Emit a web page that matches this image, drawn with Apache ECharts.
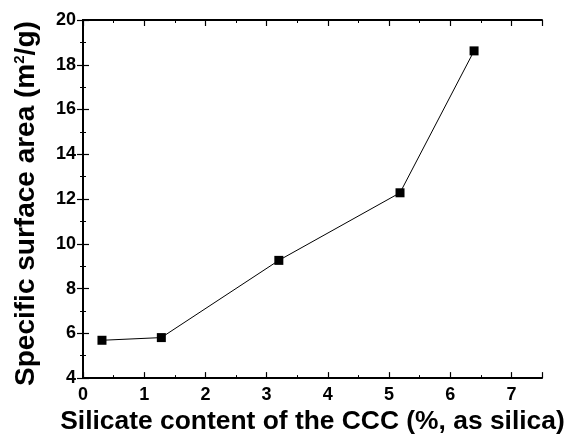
<!DOCTYPE html>
<html><head><meta charset="utf-8">
<script src="https://cdn.jsdelivr.net/npm/echarts@6/dist/echarts.min.js"></script>
<style>html,body{margin:0;padding:0;background:#fff}#c{width:569px;height:440px}</style>
</head><body><div id="c"></div>
<script>
const silica = [0.31, 1.28, 3.20, 5.18, 6.39];
const area = [5.69, 5.81, 9.26, 12.28, 18.62];
const xTicks = [0, 1, 2, 3, 4, 5, 6, 7];
const yTicks = [4, 6, 8, 10, 12, 14, 16, 18, 20];

const F = '"Liberation Sans", Arial, sans-serif';
const axisCommon = {
  axisLine: {show: true, lineStyle: {color: '#000', width: 2}},
  axisTick: {show: true, inside: true, length: 6, lineStyle: {color: '#000', width: 1.2}},
  minorTick: {show: true, splitNumber: 2, length: 3, lineStyle: {color: '#000', width: 1}},
  splitLine: {show: false}
};
const chart = echarts.init(document.getElementById('c'));
chart.setOption({
  animation: false,
  grid: {left: 83, top: 20, right: 27, bottom: 55, containLabel: false},
  xAxis: [
    Object.assign({type: 'value', min: 0, max: 7.5, interval: 1, position: 'bottom',
      axisLabel: {color: '#000', fontFamily: F, fontWeight: 'bold', fontSize: 18, margin: 8,
        formatter: v => xTicks.includes(v) ? String(v) : ''},
      name: 'Silicate content of the CCC (%, as silica)', nameLocation: 'middle', nameGap: 29,
      nameTextStyle: {color: '#000', fontFamily: F, fontWeight: 'bold', fontSize: 26.4}
    }, axisCommon),
    Object.assign({type: 'value', min: 0, max: 7.5, interval: 1, position: 'top', axisLabel: {show: false}}, axisCommon)
  ],
  yAxis: [
    Object.assign({type: 'value', min: 4, max: 20, interval: 2, position: 'left',
      axisLabel: {color: '#000', fontFamily: F, fontWeight: 'bold', fontSize: 18, margin: 7,
        formatter: v => yTicks.includes(v) ? String(v) : ''},
      name: '{n|Specific surface area (m}{s|2}{n|/g)}', nameLocation: 'middle', nameGap: 43,
      nameTextStyle: {padding: [0, 9, 0, 0], rich: {
        n: {color: '#000', fontFamily: F, fontWeight: 'bold', fontSize: 28},
        s: {color: '#000', fontFamily: F, fontWeight: 'bold', fontSize: 15, verticalAlign: 'top', padding: [0,0,10,0]}
      }}
    }, axisCommon),
    Object.assign({type: 'value', min: 4, max: 20, interval: 2, position: 'right', axisLabel: {show: false}}, axisCommon)
  ],
  series: [{
    type: 'line', xAxisIndex: 0, yAxisIndex: 0,
    data: silica.map((x, i) => [x, area[i]]),
    symbol: 'rect', symbolSize: 9,
    lineStyle: {color: '#000', width: 1},
    itemStyle: {color: '#000'}
  }]
});
</script></body></html>
